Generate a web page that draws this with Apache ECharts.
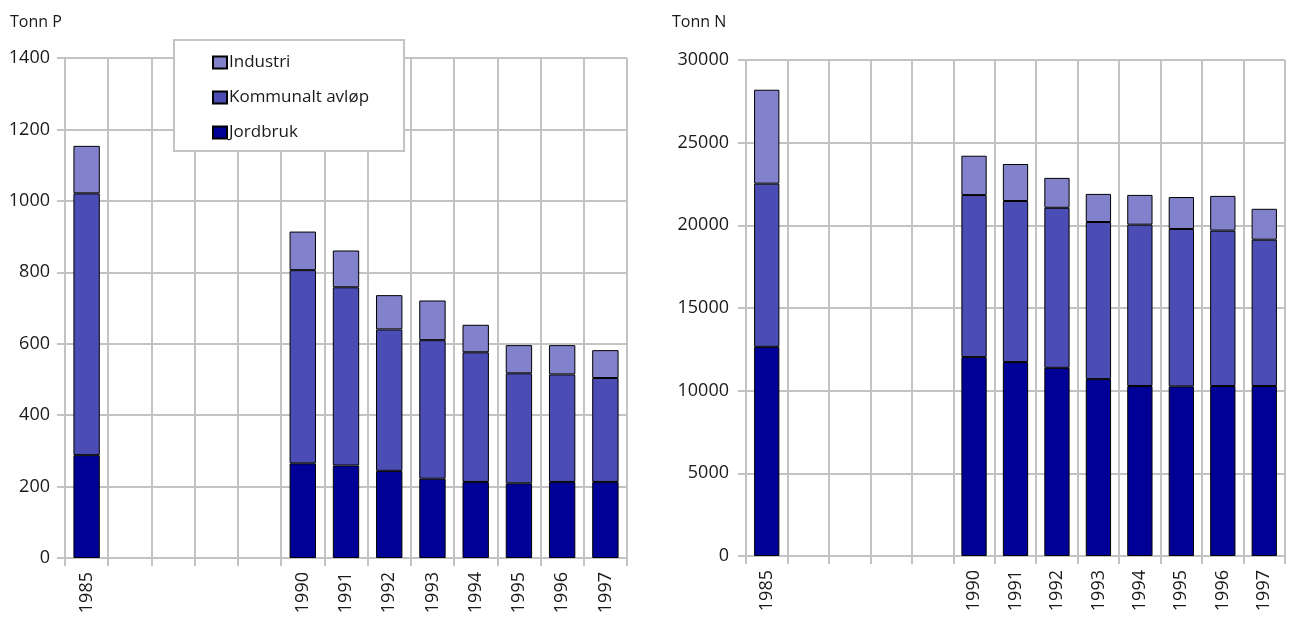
<!DOCTYPE html>
<html>
<head>
<meta charset="utf-8">
<script src="https://cdn.jsdelivr.net/npm/echarts@6/dist/echarts.min.js"></script>
<style>
  html, body { margin: 0; padding: 0; background: #fff; }
  #chart { width: 1292px; height: 617px; }
</style>
</head>
<body>
<div id="chart"></div>
<script>
// years, with the empty gap 1986-1989 kept as blank categories
const years = ['1985', '', '', '', '', '1990', '1991', '1992', '1993', '1994', '1995', '1996', '1997']

// Tonn P
const pJordbruk = [288, null, null, null, null, 265, 259, 244, 222, 213, 209, 213, 213]
const pKommunalt = [733, null, null, null, null, 541, 499, 396, 388, 363, 308, 301, 291]
const pIndustri = [133, null, null, null, null, 108, 103, 96, 111, 77, 79, 82, 78]

// Tonn N
const nJordbruk = [12650, null, null, null, null, 12030, 11730, 11380, 10700, 10280, 10260, 10280, 10280]
const nKommunalt = [9870, null, null, null, null, 9800, 9740, 9680, 9500, 9760, 9520, 9400, 8850]
const nIndustri = [5680, null, null, null, null, 2380, 2240, 1810, 1700, 1800, 1930, 2100, 1870]

const pTicks = { min: 0, max: 1400, interval: 200 }
const nTicks = { min: 0, max: 30000, interval: 5000 }

const colors = {
  'Industri': '#8282cc',
  'Kommunalt avløp': '#4b4db4',
  'Jordbruk': '#000096'
}

const FONT = 'Open Sans'
const gridGray = '#c3c3c3'

function xAxis(gridIndex) {
  return {
    type: 'category',
    gridIndex: gridIndex,
    data: years,
    axisLine: { lineStyle: { color: gridGray, width: 2 } },
    axisTick: { show: true, interval: 0, length: 8, lineStyle: { color: gridGray, width: 2 } },
    splitLine: { show: true, interval: 0, lineStyle: { color: gridGray, width: 2 } },
    axisLabel: { interval: 0, rotate: 90, margin: 14, color: '#1a1a1a', fontSize: 18, fontFamily: FONT }
  }
}

function yAxis(gridIndex, ticks, margin) {
  return {
    type: 'value',
    gridIndex: gridIndex,
    min: ticks.min,
    max: ticks.max,
    interval: ticks.interval,
    axisLine: { show: true, lineStyle: { color: gridGray, width: 2 } },
    axisTick: { show: true, length: 8, lineStyle: { color: gridGray, width: 2 } },
    splitLine: { lineStyle: { color: gridGray, width: 2 } },
    axisLabel: {
      margin: margin, color: '#1a1a1a', fontSize: 18, fontFamily: FONT,
      formatter: function (v) { return String(v) }
    }
  }
}

function bar(name, data, idx) {
  return {
    name: name,
    type: 'bar',
    stack: 'total' + idx,
    xAxisIndex: idx,
    yAxisIndex: idx,
    barWidth: '61%',
    data: data,
    itemStyle: { color: colors[name], borderColor: '#000', borderWidth: 1 }
  }
}

const chart = echarts.init(document.getElementById('chart'))
chart.setOption({
  animation: false,
  textStyle: { fontFamily: FONT },
  title: [
    { text: 'Tonn P', left: 5, top: 9, textStyle: { fontSize: 16, fontWeight: 'normal', color: '#1a1a1a', fontFamily: FONT } },
    { text: 'Tonn N', left: 667, top: 9, textStyle: { fontSize: 16, fontWeight: 'normal', color: '#1a1a1a', fontFamily: FONT } }
  ],
  legend: {
    orient: 'vertical',
    left: 174,
    top: 40,
    data: ['Industri', 'Kommunalt avløp', 'Jordbruk'],
    icon: 'rect',
    itemWidth: 14,
    itemHeight: 12,
    itemGap: 18,
    padding: [14, 35, 10, 38],
    backgroundColor: '#fff',
    borderColor: gridGray,
    borderWidth: 2,
    borderRadius: 0,
    textStyle: { fontSize: 17, color: '#1a1a1a', fontFamily: FONT, padding: [0, 0, 0, -3] }
  },
  grid: [
    { left: 65, right: 665, top: 58, bottom: 59 },
    { left: 746, right: 7, top: 60, bottom: 61 }
  ],
  xAxis: [xAxis(0), xAxis(1)],
  yAxis: [yAxis(0, pTicks, 15), yAxis(1, nTicks, 17)],
  series: [
    bar('Jordbruk', pJordbruk, 0),
    bar('Kommunalt avløp', pKommunalt, 0),
    bar('Industri', pIndustri, 0),
    bar('Jordbruk', nJordbruk, 1),
    bar('Kommunalt avløp', nKommunalt, 1),
    bar('Industri', nIndustri, 1)
  ]
})
</script>
</body>
</html>
